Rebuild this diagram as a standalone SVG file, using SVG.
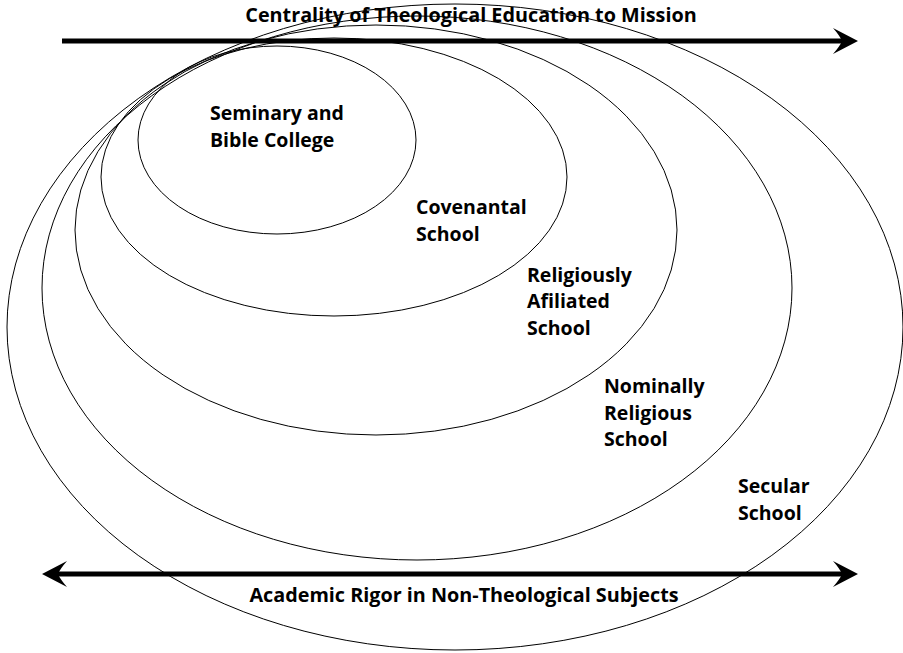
<svg xmlns="http://www.w3.org/2000/svg" width="903" height="653" viewBox="0 0 903 653">
<style>
.ring{fill:none;stroke:#000;stroke-width:1}
.lbl{font-family:"Open Sans","Liberation Sans",sans-serif;font-weight:700;font-size:19.5px;fill:#000}
.axis{font-family:"Open Sans","Liberation Sans",sans-serif;font-weight:700;font-size:19.8px;fill:#000}
.arrow{stroke:#000;stroke-width:5;fill:none}
</style>
<defs>
<marker id="head" markerUnits="userSpaceOnUse" viewBox="0 -14 26 28" refX="9" refY="0" markerWidth="26" markerHeight="28" orient="auto-start-reverse">
<path d="M25,0 L0,-13 Q7,-5 9,0 Q7,5 0,13 Z" fill="#000"/>
</marker>
</defs>
<rect width="903" height="653" fill="#fff"/>
<g id="secular">
<ellipse class="ring" cx="455" cy="327" rx="448" ry="323"/>
<text class="lbl" x="738" y="493">Secular</text>
<text class="lbl" x="738" y="520">School</text>
</g>
<g id="nominally">
<ellipse class="ring" cx="417" cy="288" rx="375" ry="272"/>
<text class="lbl" x="604" y="393">Nominally</text>
<text class="lbl" x="604" y="420">Religious</text>
<text class="lbl" x="604" y="446">School</text>
</g>
<g id="religiously">
<ellipse class="ring" cx="376" cy="230" rx="301" ry="205"/>
<text class="lbl" x="527" y="282">Religiously</text>
<text class="lbl" x="527" y="308">Afiliated</text>
<text class="lbl" x="527" y="335">School</text>
</g>
<g id="covenantal">
<ellipse class="ring" cx="334" cy="177" rx="233" ry="139"/>
<text class="lbl" x="416" y="214">Covenantal</text>
<text class="lbl" x="416" y="241">School</text>
</g>
<g id="seminary">
<ellipse class="ring" cx="277" cy="140" rx="139" ry="94"/>
<text class="lbl" x="210" y="120">Seminary and</text>
<text class="lbl" x="210" y="147">Bible College</text>
</g>
<g id="connectors">
<line class="arrow" x1="62" y1="41" x2="842" y2="41" marker-end="url(#head)"/>
<line class="arrow" x1="58" y1="574" x2="842" y2="574" marker-start="url(#head)" marker-end="url(#head)"/>
</g>
<g id="axis-labels">
<text class="axis" x="471" y="22" text-anchor="middle">Centrality of Theological Education to Mission</text>
<text class="axis" x="464" y="602" text-anchor="middle">Academic Rigor in Non-Theological Subjects</text>
</g>
</svg>
